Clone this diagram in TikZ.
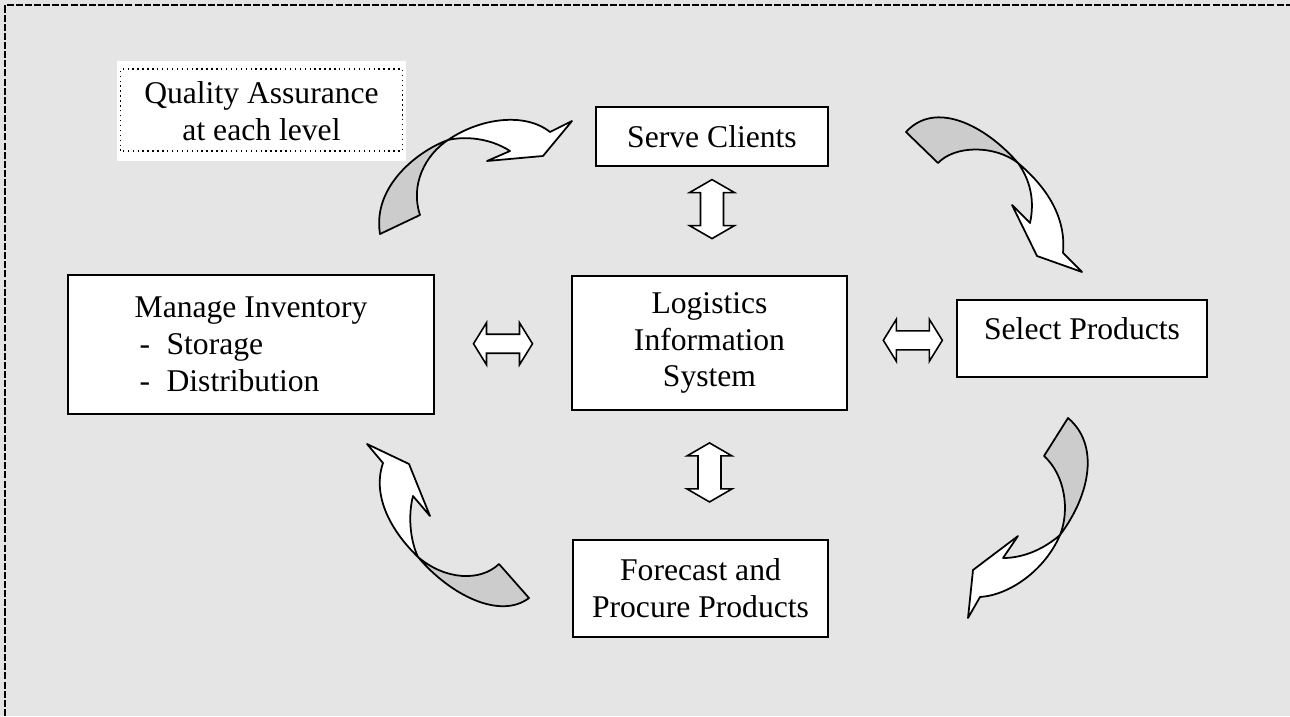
\documentclass[tikz,border=0pt]{standalone}
\usepackage{fontspec}
\setmainfont{Liberation Serif}
\usetikzlibrary{calc}
\definecolor{paper}{HTML}{E5E5E5}
\definecolor{tail}{HTML}{CCCCCC}
\tikzset{
	box/.style={draw, line width=1pt, fill=white, inner sep=0pt, align=center, font=\fontsize{18}{21}\selectfont},
	qabox/.style={fill=white, inner sep=0pt, align=center, font=\fontsize{18}{21}\selectfont},
	ribbon/.style={draw, line width=1pt, line join=round},
	hdbl/.pic={\draw[line width=0.9pt, fill=white] (-29.5,0) -- (-16.5,-21) -- (-16.5,-9.5) -- (16.5,-9.5) -- (16.5,-21)
		-- (29.5,0) -- (16.5,21) -- (16.5,9.5) -- (-16.5,9.5) -- (-16.5,21) -- cycle;},
	vdbl/.pic={\draw[line width=0.9pt, fill=white] (0,-29.5) -- (-22.5,-16.5) -- (-11.5,-16.5) -- (-11.5,16.5) -- (-22.5,16.5)
		-- (0,29.5) -- (22.5,16.5) -- (11.5,16.5) -- (11.5,-16.5) -- (22.5,-16.5) -- cycle;}
}

\begin{document}
\begin{tikzpicture}[x=0.02cm, y=-0.02cm]
		%%%%% START %%%%%
		\useasboundingbox (0,0) rectangle (1290,716);
		\fill[paper] (0,0) rectangle (1290,716);
		\draw[line width=1.5pt, dash pattern=on 4pt off 1.2pt] (5,716) -- (5,5) -- (1290,5);
		
		\node[qabox, minimum width=5.78cm, minimum height=2.02cm] (qa) at (261.5,111) {Quality Assurance\\at each level};
		\draw[dotted, line width=0.8pt] ($(qa.south west)+(4,-11)$) rectangle ($(qa.north east)+(-4,9)$);
		
		\node[box, minimum width=4.64cm, minimum height=1.18cm] (serve) at (712,136.5) {Serve Clients};
		\node[box, minimum width=7.32cm, minimum height=2.78cm, align=left] (inv) at (251,344.5)
			{Manage Inventory\\\hspace*{0.1cm}\makebox[0.54cm][l]{-}Storage\\\hspace*{0.1cm}\makebox[0.54cm][l]{-}Distribution};
		\node[box, minimum width=5.5cm, minimum height=2.68cm] (lis) at (709.5,343) {Logistics\\Information\\System};
		\node[box, minimum width=5cm, minimum height=1.54cm, text height=0.43cm, text depth=0.40cm] (selp) at (1082,338.5) {Select Products};
		\node[box, minimum width=5.1cm, minimum height=1.94cm] (fore) at (700.5,588.5) {Forecast and\\Procure Products};
		
		\coordinate (invlis) at ($(inv.east)!0.5!(lis.west)$);
		\coordinate (lissel) at ($(lis.east)!0.6!(selp.west)$);
		\coordinate (servlis) at ($(serve.south)!0.39!(serve.south |- lis.north)$);
		\coordinate (lisfore) at ($(lis.south)!0.48!(lis.south |- fore.north)$);
		\pic at (invlis) {hdbl};
		\pic at (lissel) {hdbl};
		\pic at (servlis) {vdbl};
		\pic at (lisfore) {vdbl};
		
		% top left
		\draw[ribbon, fill=tail] (380,234) -- (420,215) .. controls (410,185) and (425,155) .. (448,140)
			.. controls (420,150) and (372,185) .. (380,234) -- cycle;
		\draw[ribbon, fill=white] (448,140) .. controls (480,118) and (525,112) .. (550,132) -- (572,121) -- (543,156)
			-- (487,161) -- (510,151) .. controls (490,138) and (465,136) .. (448,140) -- cycle;
		
		% top right
		\draw[ribbon, fill=tail] (906,132) -- (938,163) .. controls (955,145) and (995,145) .. (1018,163)
			.. controls (985,125) and (935,100) .. (906,132) -- cycle;
		\draw[ribbon, fill=white] (1018,163) .. controls (1050,190) and (1066,220) .. (1063,253) -- (1082,272) -- (1037,256)
			-- (1012,205) -- (1030,223) .. controls (1035,200) and (1030,180) .. (1018,163) -- cycle;
		
		% bottom right
		\draw[ribbon, fill=tail] (1068,418) -- (1044,456) .. controls (1065,475) and (1070,510) .. (1060,535)
			.. controls (1090,495) and (1100,445) .. (1068,418) -- cycle;
		\draw[ribbon, fill=white] (1060,535) .. controls (1045,570) and (1010,595) .. (980,597) -- (968,618) -- (973,570)
			-- (1018,536) -- (1003,558) .. controls (1025,558) and (1045,548) .. (1060,535) -- cycle;
		
		% bottom left
		\draw[ribbon, fill=tail] (529,598) -- (499,564) .. controls (480,582) and (445,580) .. (418,557)
			.. controls (450,595) and (500,620) .. (529,598) -- cycle;
		\draw[ribbon, fill=white] (418,557) .. controls (390,530) and (372,495) .. (383,463) -- (367,444) -- (409,464)
			-- (430,516) -- (413,496) .. controls (408,515) and (410,540) .. (418,557) -- cycle;
		%%%%% END %%%%%
\end{tikzpicture}
\end{document}
